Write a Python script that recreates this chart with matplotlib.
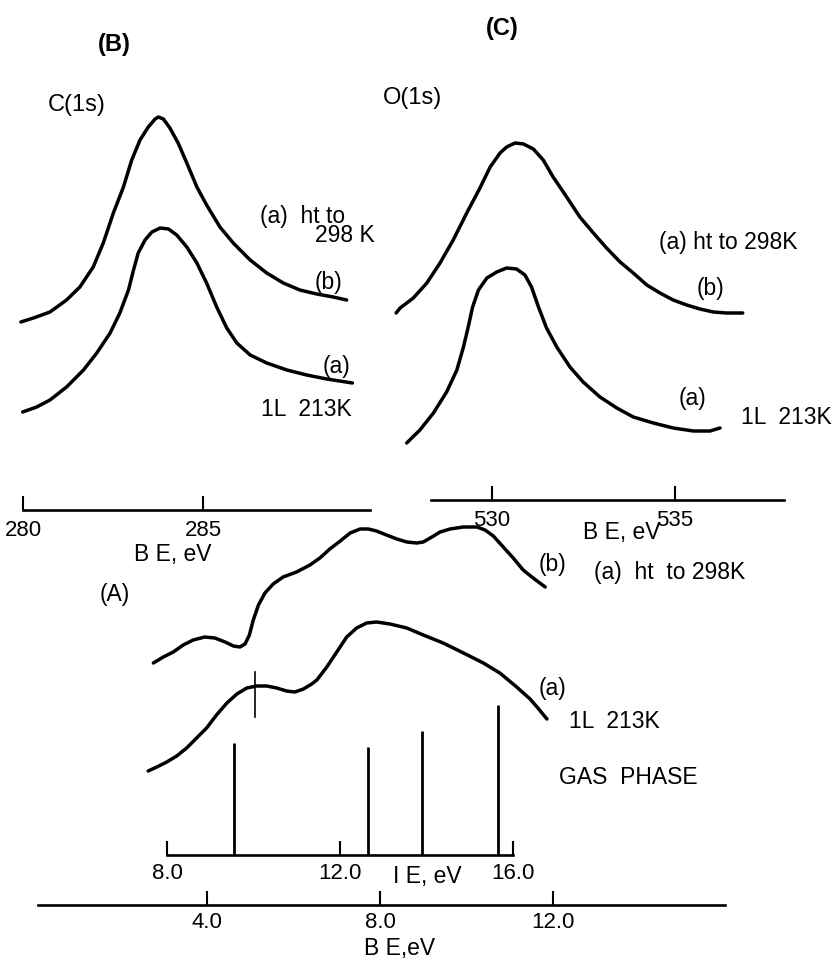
import matplotlib
matplotlib.use("Agg")
import matplotlib.pyplot as plt

plt.rcParams['font.family'] = ['Liberation Sans', 'DejaVu Sans']

# ---- (B) C(1s) spectra, BE in eV, intensity arb. units
c1s_be_b = [279.94, 280.29, 280.75, 281.21, 281.58, 281.95, 282.23, 282.51, 282.79, 283.02,
            283.25, 283.48, 283.67, 283.76, 283.90, 284.08, 284.31, 284.55, 284.83, 285.10,
            285.47, 285.84, 286.31, 286.77, 287.23, 287.69, 288.16, 288.62, 288.99]
c1s_int_b = [18.8, 19.2, 19.8, 21.0, 22.3, 24.3, 26.7, 29.7, 32.3, 35.0,
             37.0, 38.3, 39.1, 39.3, 39.1, 38.2, 36.7, 34.7, 32.3, 30.5,
             28.3, 26.7, 25.0, 23.7, 22.7, 22.0, 21.6, 21.3, 21.0]
c1s_be_a = [279.99, 280.38, 280.75, 281.21, 281.68, 282.05, 282.42, 282.69, 282.93, 283.07,
            283.20, 283.39, 283.58, 283.81, 284.04, 284.27, 284.55, 284.83, 285.10, 285.38,
            285.66, 285.94, 286.31, 286.77, 287.33, 287.88, 288.44, 289.15]
c1s_int_a = [9.8, 10.3, 11.0, 12.3, 14.0, 15.7, 17.7, 19.7, 22.0, 24.0,
             25.7, 27.0, 27.8, 28.2, 28.1, 27.5, 26.3, 24.7, 22.7, 20.3,
             18.2, 16.7, 15.5, 14.7, 14.0, 13.5, 13.1, 12.7]

# ---- (C) O(1s) spectra
o1s_be_b = [527.38, 527.49, 527.85, 528.22, 528.58, 528.94, 529.31, 529.67, 529.95, 530.22,
            530.40, 530.63, 530.86, 531.13, 531.40, 531.67, 532.04, 532.40, 532.77, 533.13,
            533.50, 533.86, 534.23, 534.59, 534.95, 535.32, 535.68, 536.05, 536.41, 536.85]
o1s_int_b = [18.7, 19.2, 20.2, 21.7, 23.7, 26.0, 28.7, 31.2, 33.3, 34.7,
             35.3, 35.7, 35.6, 35.1, 34.0, 32.3, 30.3, 28.3, 26.7, 25.2,
             23.8, 22.7, 21.5, 20.7, 20.0, 19.5, 19.1, 18.8, 18.7, 18.7]
o1s_be_a = [527.67, 528.03, 528.40, 528.76, 529.04, 529.22, 529.35, 529.47, 529.63, 529.86,
            530.13, 530.40, 530.67, 530.90, 531.08, 531.27, 531.49, 531.77, 532.13, 532.49,
            532.95, 533.41, 533.86, 534.41, 534.95, 535.50, 535.96, 536.23]
o1s_int_a = [5.7, 7.0, 8.7, 10.8, 13.0, 15.3, 17.3, 19.3, 21.0, 22.2,
             22.8, 23.2, 23.1, 22.5, 21.3, 19.3, 17.2, 15.3, 13.3, 11.8,
             10.3, 9.2, 8.3, 7.7, 7.2, 6.9, 6.9, 7.2]

# ---- (A) valence band spectra, BE in eV
vb_be_b = [2.76, 2.99, 3.22, 3.45, 3.68, 3.95, 4.18, 4.42, 4.61, 4.76, 4.88, 4.98, 5.07,
           5.19, 5.34, 5.53, 5.76, 6.07, 6.38, 6.61, 6.84, 7.08, 7.31, 7.54, 7.73, 7.92,
           8.15, 8.39, 8.62, 8.85, 9.00, 9.20, 9.39, 9.62, 9.93, 10.24, 10.43, 10.62,
           10.85, 11.08, 11.31, 11.54, 11.82]
vb_int_b = [24.2, 24.8, 25.3, 26.0, 26.5, 26.8, 26.7, 26.3, 25.9, 25.8, 26.1, 27.0, 28.5,
            30.0, 31.2, 32.1, 32.8, 33.3, 34.0, 34.7, 35.6, 36.4, 37.2, 37.6, 37.6, 37.4,
            37.0, 36.6, 36.3, 36.2, 36.3, 36.8, 37.3, 37.6, 37.8, 37.8, 37.5, 36.9,
            35.8, 34.7, 33.5, 32.7, 31.8]
vb_be_a = [2.64, 2.84, 3.07, 3.30, 3.53, 3.76, 3.99, 4.22, 4.46, 4.69, 4.92, 5.15, 5.38,
           5.61, 5.84, 6.03, 6.23, 6.42, 6.54, 6.77, 7.00, 7.23, 7.46, 7.69, 7.92, 8.23,
           8.62, 9.00, 9.46, 9.93, 10.39, 10.77, 11.16, 11.47, 11.65, 11.86]
vb_int_a = [13.4, 13.8, 14.3, 14.9, 15.7, 16.7, 17.7, 19.0, 20.2, 21.1, 21.7, 21.9, 21.9,
            21.7, 21.4, 21.3, 21.6, 22.1, 22.5, 23.8, 25.3, 26.8, 27.7, 28.2, 28.3, 28.1,
            27.7, 27.0, 26.2, 25.2, 24.2, 23.2, 21.8, 20.6, 19.7, 18.6]
marker_be = 5.11
marker_int = [18.8, 23.3]

# gas phase ionisation energies (eV) and relative heights
gas_ie = [9.56, 12.65, 13.9, 15.66]
gas_int = [11.2, 10.8, 12.4, 15.0]
ie_offset = 4.925  # IE scale relative to BE scale

W, H = 832, 960
fig = plt.figure(figsize=(W / 100, H / 100), dpi=100)


def px_axes(left, right, top, bottom, xlim, ylim):
    ax = fig.add_axes([left / W, 1 - bottom / H, (right - left) / W, (bottom - top) / H])
    ax.set_xlim(xlim)
    ax.set_ylim(ylim)
    ax.patch.set_visible(False)
    for s in ('top', 'right', 'left'):
        ax.spines[s].set_visible(False)
    ax.spines['bottom'].set_linewidth(1.9)
    ax.set_yticks([])
    ax.tick_params(axis='x', direction='in', length=10, width=1.5, pad=7, labelsize=16)
    return ax


def label(x, y, s, **kw):
    kw.setdefault('fontsize', 16.5)
    fig.text(x / W, 1 - y / H, s, ha='center', va='center', **kw)


lw = 2.5
curve = dict(color='black', lw=lw, solid_joinstyle='round', solid_capstyle='round')

# (B)
axB = px_axes(0, 410, 90, 510, (280 - 23 / 36, 280 + 387 / 36), (0, 42))
axB.plot(c1s_be_b, c1s_int_b, **curve)
axB.plot(c1s_be_a, c1s_int_a, **curve)
axB.spines['bottom'].set_bounds(280, 289.64)
axB.set_xticks([280, 285], ['280', '285'])

# (C)
axC = px_axes(380, 832, 90, 500, (530 + (380 - 492) / 36.6, 530 + (832 - 492) / 36.6), (0, 41))
axC.plot(o1s_be_b, o1s_int_b, **curve)
axC.plot(o1s_be_a, o1s_int_a, **curve)
axC.spines['bottom'].set_bounds(528.33, 537.98)
axC.set_xticks([530, 535], ['530', '535'])

# (A)
a_xlim = (-34 / 43.25, (832 - 34) / 43.25)
axA = px_axes(0, 832, 505, 905, a_xlim, (0, 40))
axA.plot(vb_be_b, vb_int_b, **curve)
axA.plot(vb_be_a, vb_int_a, **curve)
axA.plot([marker_be, marker_be], marker_int, color='black', lw=1.2)
axA.spines['bottom'].set_bounds(0.09, 15.98)
axA.set_xticks([4, 8, 12], ['4.0', '8.0', '12.0'])
axA.tick_params(axis='x', pad=5)

axIE = px_axes(0, 832, 655, 855, (a_xlim[0] + ie_offset, a_xlim[1] + ie_offset), (0, 20))
axIE.vlines(gas_ie, 0, gas_int, color='black', lw=2.0)
axIE.spines['bottom'].set_bounds(8, 16)
axIE.set_xticks([8, 12, 16], ['8.0', '12.0', '16.0'])
axIE.tick_params(axis='x', pad=6)

# texts
label(114, 44, '(B)', fontweight='bold', fontsize=17)
label(502, 29, '(C)', fontweight='bold', fontsize=17)
label(77, 105, 'C(1s)', fontsize=17)
label(412, 98, 'O(1s)', fontsize=17)

label(303, 216, '(a)  ht to')
label(345, 236, '298 K')
label(328, 282, '(b)')
label(337, 367, '(a)')
label(306, 410, '1L  213K')
label(173, 555, 'B E, eV')

label(728, 242, '(a) ht to 298K')
label(710, 288, '(b)')
label(692, 398, '(a)')
label(786, 417, '1L  213K')
label(622, 532, 'B E, eV')

label(115, 595, '(A)')
label(552, 565, '(b)')
label(670, 573, '(a)  ht  to 298K')
label(552, 688, '(a)')
label(614, 721, '1L  213K')
label(628, 777, 'GAS  PHASE')
label(427, 877, 'I E, eV')
label(400, 948, 'B E,eV')

fig.savefig('out.png', dpi=100, facecolor='white')
